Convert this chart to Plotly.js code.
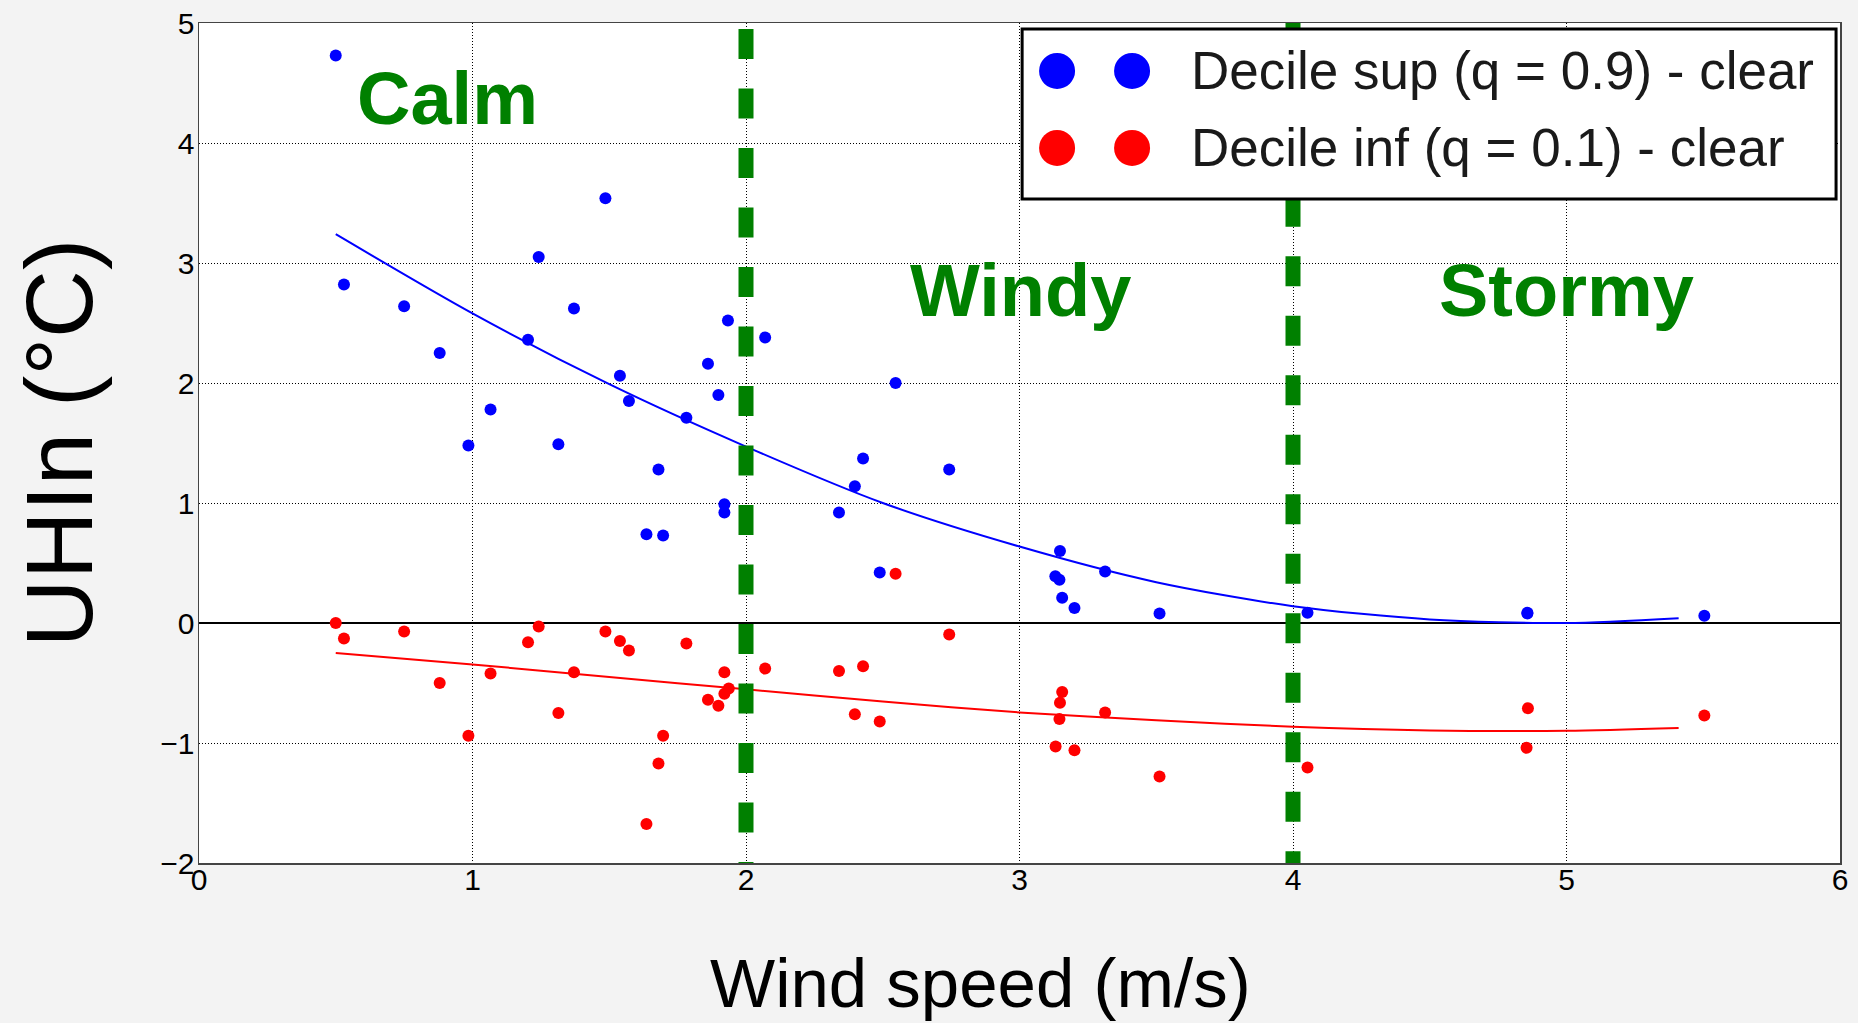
<!DOCTYPE html>
<html>
<head>
<meta charset="utf-8">
<script src="https://cdn.plot.ly/plotly-3.0.1.min.js"></script>
<style>
  html, body { margin: 0; padding: 0; background: #f3f3f3; }
  #chart { width: 1858px; height: 1023px; }
</style>
</head>
<body>
<div id="chart"></div>
<script>
// ---------- Data ----------
// Upper decile (q = 0.9), clear sky
const windSup = [0.50, 0.53, 0.75, 0.88, 0.985, 1.066, 1.203, 1.242, 1.314, 1.371,
                 1.486, 1.539, 1.572, 1.636, 1.680, 1.697, 1.782, 1.861, 1.899, 1.921,
                 1.921, 1.934, 2.070, 2.340, 2.398, 2.428, 2.489, 2.547, 2.743, 3.131,
                 3.146, 3.148, 3.156, 3.201, 3.313, 3.512, 4.053, 4.857, 4.857, 5.504];
const uhiSup  = [4.73, 2.82, 2.64, 2.25, 1.48, 1.78, 2.36, 3.05, 1.49, 2.62,
                 3.54, 2.06, 1.85, 0.74, 1.28, 0.73, 1.71, 2.16, 1.90, 0.99,
                 0.92, 2.52, 2.38, 0.92, 1.14, 1.37, 0.42, 2.00, 1.28, 0.39,
                 0.36, 0.60, 0.21, 0.125, 0.43, 0.08, 0.086, 0.08, 0.085, 0.06];

// Lower decile (q = 0.1), clear sky
const windInf = [0.50, 0.53, 0.75, 0.88, 0.985, 1.066, 1.203, 1.242, 1.314, 1.371,
                 1.486, 1.539, 1.572, 1.636, 1.680, 1.697, 1.782, 1.861, 1.899, 1.921,
                 1.921, 1.937, 2.070, 2.340, 2.398, 2.428, 2.489, 2.547, 2.743, 3.132,
                 3.146, 3.148, 3.156, 3.201, 3.313, 3.512, 4.053, 4.854, 4.859, 5.504];
const uhiInf  = [0.00, -0.13, -0.07, -0.50, -0.94, -0.42, -0.16, -0.03, -0.75, -0.41,
                 -0.07, -0.15, -0.23, -1.675, -1.17, -0.94, -0.17, -0.64, -0.69, -0.41,
                 -0.59, -0.545, -0.38, -0.40, -0.76, -0.36, -0.82, 0.41, -0.095, -1.03,
                 -0.80, -0.665, -0.575, -1.06, -0.745, -1.28, -1.205, -1.04, -0.71, -0.77];

// Fitted trend curves
const fitWind   = [0.50, 1.00, 1.50, 2.00, 2.50, 3.00, 3.50, 4.00, 4.50, 5.00, 5.41];
const fitSup    = [3.24, 2.58, 1.99, 1.47, 1.00, 0.637, 0.34, 0.14, 0.03, 0.00, 0.04];
const fitInf    = [-0.25, -0.345, -0.45, -0.553, -0.655, -0.745, -0.81, -0.865, -0.895, -0.897, -0.874];

// Wind regime thresholds and labels
const thresholds   = [2, 4];
const regimeLabels = ['Calm', 'Windy', 'Stormy'];
const legendLabels = ['Decile sup (q = 0.9) - clear', 'Decile inf (q = 0.1) - clear'];
const seriesColors = ['#0000ff', '#ff0000'];
const xTitle = 'Wind speed (m/s)';
const yTitle = 'UHIn (°C)';

// ---------- Chart ----------
const FONT = 'Liberation Sans, Arial, Helvetica, sans-serif';
const NBSP = '\u00a0';

const traces = [
  { x: fitWind, y: fitSup, mode: 'lines', line: { color: seriesColors[0], width: 2, shape: 'spline', smoothing: 0.8 }, hoverinfo: 'skip', showlegend: false },
  { x: fitWind, y: fitInf, mode: 'lines', line: { color: seriesColors[1], width: 2, shape: 'spline', smoothing: 0.8 }, hoverinfo: 'skip', showlegend: false },
  { x: windSup, y: uhiSup, mode: 'markers', name: legendLabels[0], marker: { color: seriesColors[0], size: 12 }, showlegend: false },
  { x: windInf, y: uhiInf, mode: 'markers', name: legendLabels[1], marker: { color: seriesColors[1], size: 12 }, showlegend: false }
];

const shapes = [];
// dashed green regime separators
const dashStarts = [4.95, 5.04];
thresholds.forEach((t, i) => {
  shapes.push({ type: 'line', xref: 'x', yref: 'y', x0: t, x1: t, y0: dashStarts[i], y1: -2.3,
    line: { color: '#008000', width: 15, dash: '30px,29.5px' }, layer: 'above' });
});

// custom legend box (matplotlib style with two markers per entry)
const legBox = { x0: 0.5016, x1: 0.9976, y0: 0.7905, y1: 0.9929 };
shapes.push({ type: 'rect', xref: 'paper', yref: 'paper', x0: legBox.x0, x1: legBox.x1, y0: legBox.y0, y1: legBox.y1,
  fillcolor: '#ffffff', line: { color: '#000', width: 3 }, layer: 'above' });
const legRowsY = [0.9429, 0.8512];
const legDotsX = [0.5229, 0.5686];
legendLabels.forEach((lab, i) => {
  legDotsX.forEach(px => {
    shapes.push({ type: 'circle', xref: 'paper', yref: 'paper', xsizemode: 'pixel', ysizemode: 'pixel',
      xanchor: px, yanchor: legRowsY[i], x0: -18, x1: 18, y0: -18, y1: 18,
      fillcolor: seriesColors[i], line: { width: 0 }, layer: 'above' });
  });
});

const annotations = [];
const regimePos = [{ x: 0.91, y: 4.37 }, { x: 3.005, y: 2.77 }, { x: 5.0, y: 2.77 }];
regimeLabels.forEach((lab, i) => {
  annotations.push({ text: lab, xref: 'x', yref: 'y', x: regimePos[i].x, y: regimePos[i].y,
    xanchor: 'center', yanchor: 'middle', showarrow: false,
    font: { family: FONT, size: 74, color: '#008000', weight: 'bold' } });
});
legendLabels.forEach((lab, i) => {
  annotations.push({ text: lab, xref: 'paper', yref: 'paper', x: 0.6034, y: legRowsY[i],
    xanchor: 'left', yanchor: 'middle', showarrow: false,
    font: { family: FONT, size: 53, color: '#1a1a1a' } });
});
// x-axis title (placed like the original, slightly left of the plot centre)
annotations.push({ text: xTitle, xref: 'paper', yref: 'paper', x: 0.476, y: -0.1435,
  xanchor: 'center', yanchor: 'middle', showarrow: false,
  font: { family: FONT, size: 69, color: '#000' } });

const axisCommon = {
  showgrid: true, gridcolor: '#000', griddash: '1px,2px', gridwidth: 1,
  showline: true, mirror: true, linecolor: '#444', linewidth: 1.5,
  ticks: '', tickfont: { family: FONT, size: 30, color: '#000' }, dtick: 1, tick0: 0
};

const layout = {
  width: 1858, height: 1023,
  paper_bgcolor: '#f3f3f3', plot_bgcolor: '#ffffff',
  margin: { l: 199, r: 18, t: 23, b: 160 },
  showlegend: false,
  font: { family: FONT, color: '#000' },
  xaxis: Object.assign({}, axisCommon, {
    range: [0, 6], zeroline: false, ticklabelstandoff: -11
  }),
  yaxis: Object.assign({}, axisCommon, {
    range: [-2, 5], zeroline: true, zerolinecolor: '#000', zerolinewidth: 2.5,
    ticklabelstandoff: -3, tickprefix: NBSP.repeat(4),
    title: { text: yTitle, font: { family: FONT, size: 94, color: '#000' }, standoff: 3 }
  }),
  shapes: shapes,
  annotations: annotations
};

Plotly.newPlot('chart', traces, layout, { displayModeBar: false, staticPlot: true });
</script>
</body>
</html>
